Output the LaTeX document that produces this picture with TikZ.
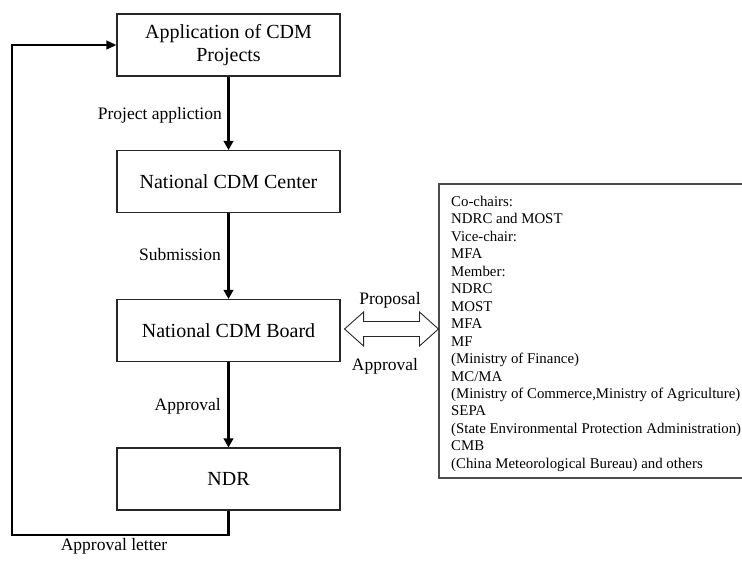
\documentclass[tikz,border=0pt]{standalone}
\usepackage{fontspec}
\setmainfont{Liberation Serif}
\usetikzlibrary{arrows.meta,calc}
\begin{document}
\begin{tikzpicture}[x=1pt,y=-1pt,
  box/.style={draw=black!85, line width=1.1pt, minimum width=223pt, minimum height=62pt,
    inner sep=0pt, font=\fontsize{20}{23}\selectfont, align=center},
  flow/.style={line width=2.2pt, -{Triangle[length=9pt,width=9.5pt]}},
  lbl/.style={font=\fontsize{17.5}{20}\selectfont, inner sep=0pt},
]
\useasboundingbox (0,0) rectangle (742,560);
\node[box] (app) at (228.5,45) {Application of CDM\\Projects};
\node[box] (center) at (228.5,181.5) {National CDM Center};
\node[box] (board) at (228.5,330.5) {National CDM Board};
\node[box] (ndr) at (228.5,479) {NDR};
\node[draw=black!70, line width=1.1pt, minimum width=305pt, minimum height=294pt, inner sep=0pt] (members) at (591.5,331) {};
\node[anchor=north west, inner sep=0pt, align=left, font=\fontsize{14.85}{17.45}\selectfont] (memtext) at (451,196) {Co-chairs:\\
NDRC and MOST\\
Vice-chair:\\
MFA\\
Member:\\
NDRC\\
MOST\\
MFA\\
MF\\
(Ministry of Finance)\\
MC/MA\\
(Ministry of Commerce,Ministry of Agriculture)\\
SEPA\\
(State Environmental Protection Administration)\\
CMB\\
(China Meteorological Bureau) and others};

\draw[flow] (app.south) -- (center.north);
\draw[flow] (center.south) -- (board.north);
\draw[flow] (board.south) -- (ndr.north);

\node[lbl, anchor=base east] (l1) at (222,119) {Project appliction};
\node[lbl, anchor=base east] (l2) at (221,260) {Submission};
\node[lbl, anchor=base east] (l3) at (221,410) {Approval};
\node[lbl, anchor=base] (l4) at (114,550) {Approval letter};
\node[lbl, anchor=base] (l5) at (390,304) {Proposal};
\node[lbl, anchor=base] (l6) at (385,370) {Approval};

\coordinate (c1) at (12,535);
\coordinate (c2) at (12,45);
\draw[line width=2.2pt, -{Triangle[length=10pt,width=8.5pt]}] (ndr.south) -- (ndr.south |- c1) -- (c1) -- (c2) -- (app.west);

\coordinate (L) at ($(board.east)+(4,-1.5)$);
\coordinate (R) at (members.west |- L);
\draw[line width=0.9pt, draw=black!85] (L) -- ++(19,-17) -- ++(0,9.5) -- ($(R)+(-19,-7.5)$) -- ++(0,-9.5) -- (R)
  -- ++(-19,17) -- ++(0,-9.5) -- ($(L)+(19,7.5)$) -- ++(0,9.5) -- cycle;
\end{tikzpicture}
\end{document}
